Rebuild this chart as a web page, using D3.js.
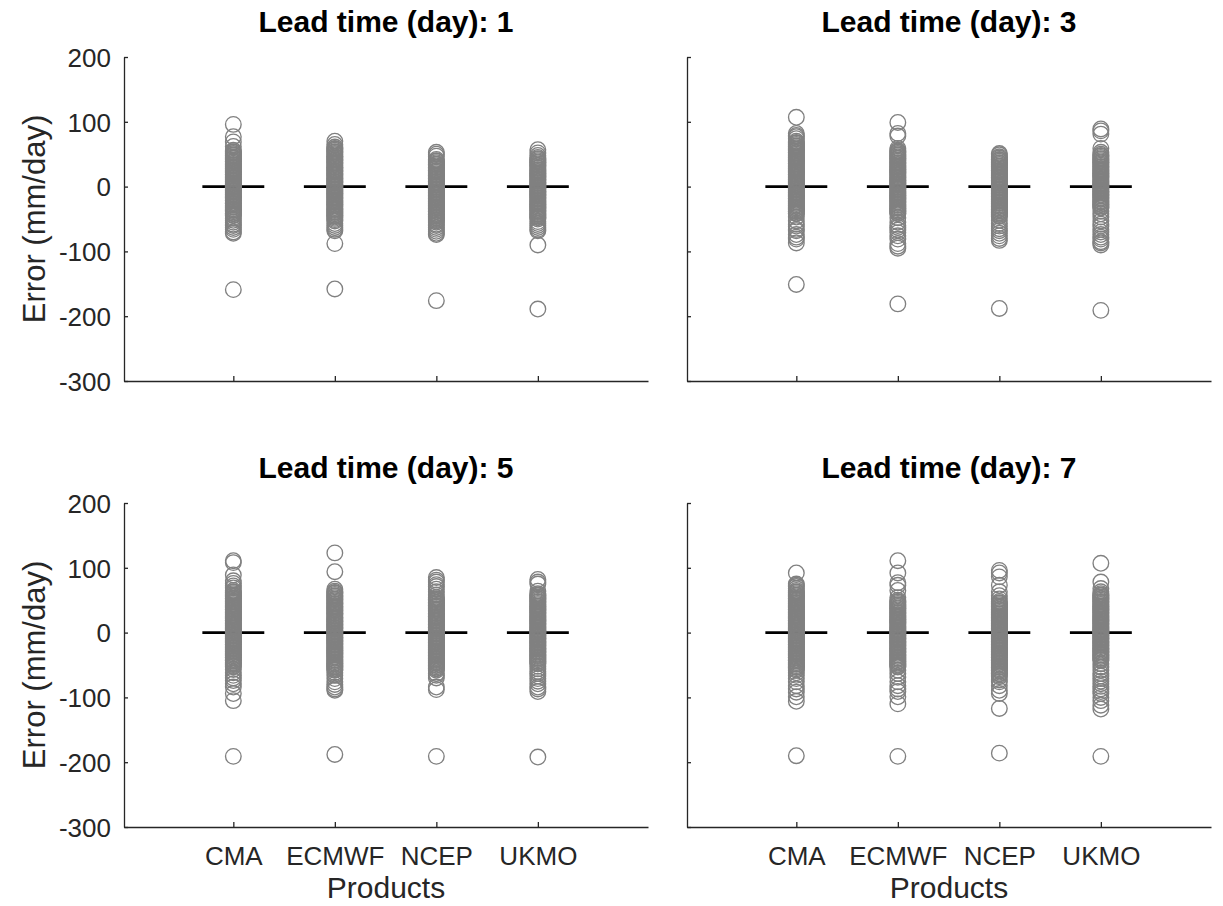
<!DOCTYPE html>
<html>
<head>
<meta charset="utf-8">
<script src="https://cdn.jsdelivr.net/npm/d3@7/dist/d3.min.js"></script>
<style>
body{margin:0;background:#fff;}
svg text{font-family:"Liberation Sans", Arial, Helvetica, sans-serif;fill:#262626;}
</style>
</head>
<body>
<script>
//wrap in a self-executing function to keep things local
(function(){

//categories and ticks
var products = ["CMA", "ECMWF", "NCEP", "UKMO"];
var leadTimes = [1, 3, 5, 7];
var yTicks = [-300, -200, -100, 0, 100, 200];

//error values (mm/day), lead time 1
var cma1 = [96,77,69,62,56,54,53,51,49,48,46,44,43,41,39,38,36,34,33,31,29,28,26,24,23,21,19,18,16,14,13,11,9,8,6,4,3,1,0,-1,-2,-4,-6,-7,-9,-11,-12,-14,-16,-17,-19,-21,-22,-24,-26,-27,-29,-31,-32,-34,-36,-37,-39,-41,-42,-44,-45,-49,-52,-55,-58,-60,-63,-66,-70,-72,-159];
var ecmwf1 = [70,65,61,59,58,56,54,53,51,49,47,46,44,42,41,39,37,36,34,32,30,29,27,25,24,22,20,19,17,15,13,12,10,8,7,5,3,2,0,-1,-3,-5,-6,-8,-10,-11,-13,-15,-17,-18,-20,-22,-23,-25,-27,-28,-30,-32,-34,-35,-37,-39,-40,-42,-44,-45,-47,-49,-51,-53,-57,-60,-63,-66,-68,-88,-158];
var ncep1 = [53,50,47,42,40,39,37,35,34,32,30,29,27,25,24,22,20,18,17,15,13,12,10,8,7,5,3,2,0,-1,-3,-4,-6,-8,-9,-11,-13,-14,-16,-18,-19,-21,-23,-24,-26,-28,-29,-31,-33,-34,-36,-38,-39,-41,-43,-44,-46,-48,-49,-51,-53,-55,-58,-60,-63,-66,-69,-72,-74,-176];
var ukmo1 = [57,52,48,45,43,42,40,38,37,35,33,32,30,28,26,25,23,21,20,18,16,15,13,11,10,8,6,5,3,1,0,-2,-3,-5,-7,-8,-10,-12,-13,-15,-17,-18,-20,-22,-23,-25,-27,-28,-30,-32,-33,-35,-37,-38,-40,-42,-43,-45,-47,-48,-50,-54,-57,-60,-63,-66,-68,-90,-189];

//lead time 3
var cma3 = [107,82,79,77,74,70,68,67,65,63,62,60,58,57,55,53,52,50,48,46,45,43,41,40,38,36,35,33,31,29,28,26,24,23,21,19,18,16,14,12,11,9,7,6,4,2,1,-1,-3,-4,-6,-8,-9,-11,-13,-14,-16,-18,-19,-21,-23,-24,-26,-28,-29,-31,-33,-34,-36,-38,-39,-41,-42,-47,-53,-58,-61,-66,-68,-74,-78,-81,-87,-151];
var ecmwf3 = [99,82,78,59,56,54,53,51,49,48,46,44,43,41,39,37,36,34,32,31,29,27,26,24,22,21,19,17,15,14,12,10,9,7,5,4,2,0,-1,-3,-4,-6,-8,-9,-11,-13,-14,-16,-18,-19,-21,-23,-24,-26,-28,-29,-31,-33,-34,-36,-38,-39,-41,-42,-48,-55,-60,-63,-67,-71,-76,-81,-88,-92,-95,-181];
var ncep3 = [51,49,46,44,42,41,39,37,36,34,32,31,29,27,25,24,22,20,19,17,15,14,12,10,9,7,5,3,2,0,-1,-3,-5,-6,-8,-10,-11,-13,-15,-16,-18,-20,-21,-23,-25,-26,-28,-30,-31,-33,-35,-36,-38,-40,-41,-43,-45,-46,-52,-57,-61,-65,-68,-72,-76,-80,-83,-188];
var ukmo3 = [89,86,81,59,53,50,48,47,45,43,42,40,38,37,35,33,31,30,28,26,25,23,21,20,18,16,15,13,11,9,8,6,4,3,1,0,-2,-3,-5,-7,-8,-10,-12,-13,-15,-17,-18,-20,-22,-23,-25,-27,-28,-30,-32,-33,-38,-42,-47,-53,-58,-61,-66,-70,-74,-78,-81,-85,-87,-90,-191];

//lead time 5
var cma5 = [111,108,89,80,76,72,69,65,63,62,60,58,57,55,53,52,50,48,47,45,43,41,40,38,36,35,33,31,30,28,26,24,23,21,19,18,16,14,13,11,9,7,6,4,2,1,-1,-3,-4,-6,-8,-9,-11,-13,-14,-16,-18,-19,-21,-23,-24,-26,-28,-29,-31,-33,-34,-36,-38,-39,-41,-43,-44,-46,-48,-49,-51,-53,-57,-62,-66,-70,-74,-79,-84,-94,-105,-191];
var ecmwf5 = [123,94,67,64,62,61,59,57,56,54,52,51,49,47,45,44,42,40,39,37,35,34,32,30,29,27,25,23,22,20,18,17,15,13,12,10,8,7,5,3,2,0,-2,-3,-5,-7,-8,-10,-12,-13,-15,-17,-18,-20,-22,-23,-25,-27,-28,-30,-32,-33,-35,-37,-38,-40,-42,-43,-45,-47,-48,-50,-52,-53,-55,-57,-58,-62,-66,-71,-76,-80,-84,-87,-89,-188];
var ncep5 = [85,81,78,74,71,67,63,58,54,52,51,49,47,46,44,42,41,39,37,36,34,32,30,29,27,25,24,22,20,19,17,15,13,12,10,8,7,5,3,2,0,-1,-3,-5,-6,-8,-10,-11,-13,-15,-16,-18,-20,-21,-23,-25,-26,-28,-30,-31,-33,-35,-36,-38,-40,-41,-43,-45,-46,-48,-50,-51,-53,-55,-56,-58,-63,-66,-70,-84,-88,-191];
var ukmo5 = [82,78,75,64,60,58,57,55,53,52,50,48,47,45,43,41,40,38,36,35,33,31,30,28,26,25,23,21,19,18,16,14,13,11,9,8,6,4,3,1,0,-2,-4,-5,-7,-9,-10,-12,-14,-15,-17,-19,-20,-22,-24,-25,-27,-29,-30,-32,-34,-35,-37,-39,-40,-42,-44,-45,-47,-48,-52,-56,-60,-63,-67,-71,-75,-79,-84,-87,-91,-192];

//lead time 7
var cma7 = [92,75,73,71,68,65,63,62,60,58,57,55,53,52,50,48,46,45,43,41,40,38,36,35,33,31,30,28,26,24,23,21,19,18,16,14,13,11,9,7,6,4,2,1,-1,-3,-4,-6,-8,-9,-11,-13,-14,-16,-18,-19,-21,-23,-24,-26,-28,-29,-31,-33,-34,-36,-38,-39,-41,-43,-44,-46,-48,-49,-51,-53,-54,-56,-58,-62,-66,-71,-76,-82,-87,-92,-99,-106,-190];
var ecmwf7 = [111,92,77,73,65,54,50,48,47,45,43,42,40,38,37,35,33,31,30,28,26,25,23,21,20,18,16,15,13,11,9,8,6,4,3,1,0,-2,-4,-5,-7,-9,-10,-12,-14,-15,-17,-19,-20,-22,-24,-25,-27,-29,-30,-32,-34,-35,-37,-39,-40,-42,-44,-45,-47,-49,-50,-52,-53,-58,-63,-69,-76,-82,-87,-91,-99,-110,-191];
var ncep7 = [96,92,86,73,63,57,52,48,46,45,43,41,40,38,36,35,33,31,29,28,26,24,23,21,19,18,16,14,13,11,9,7,6,4,2,1,-1,-3,-4,-6,-8,-9,-11,-13,-14,-16,-18,-19,-21,-23,-24,-26,-28,-29,-31,-33,-34,-36,-38,-39,-41,-43,-44,-46,-48,-49,-51,-53,-54,-56,-58,-59,-61,-63,-64,-66,-68,-73,-76,-82,-89,-94,-117,-186];
var ukmo7 = [107,78,68,63,60,58,57,55,53,52,50,48,47,45,43,41,40,38,36,35,33,31,30,28,26,25,23,21,19,18,16,14,13,11,9,8,6,4,3,1,0,-2,-4,-5,-7,-9,-10,-12,-14,-15,-17,-19,-20,-22,-24,-25,-27,-29,-30,-32,-34,-35,-37,-39,-40,-42,-43,-48,-53,-58,-63,-67,-71,-75,-79,-83,-87,-91,-94,-100,-105,-112,-118,-191];

//median error per product
var median1 = [0, 0, 0, 0];
var median3 = [0, 0, 0, 0];
var median5 = [0, 0, 0, 0];
var median7 = [0, 0, 0, 0];

var errors = [[cma1, ecmwf1, ncep1, ukmo1], [cma3, ecmwf3, ncep3, ukmo3],
              [cma5, ecmwf5, ncep5, ukmo5], [cma7, ecmwf7, ncep7, ukmo7]];
var medians = [median1, median3, median5, median7];

//figure frame
var width = 1223, height = 906;
var pw = 524, ph = 324;
var origins = [[124, 57], [687, 57], [124, 503], [687, 503]];

var svg = d3.select("body")
    .append("svg")
    .attr("width", width)
    .attr("height", height);

var x = d3.scaleLinear()
    .domain([-0.077, 5.085])
    .range([0, pw]);

var y = d3.scaleLinear()
    .domain([-300, 200])
    .range([ph, 0]);

leadTimes.forEach(function(lead, i){
    var col = i % 2, row = Math.floor(i / 2);
    var g = svg.append("g")
        .attr("transform", "translate(" + origins[i][0] + "," + origins[i][1] + ")");

    //y axis, ticks pointing inward, plain hyphen for negatives
    var yAxis = d3.axisLeft(y)
        .tickValues(yTicks)
        .tickSizeInner(-4)
        .tickSizeOuter(0)
        .tickPadding(13)
        .tickFormat(function(d){ return col == 1 ? "" : String(d); });
    var ya = g.append("g").call(yAxis);

    //x axis
    var xAxis = d3.axisBottom(x)
        .tickValues([1, 2, 3, 4])
        .tickSizeInner(-5)
        .tickSizeOuter(0)
        .tickPadding(20)
        .tickFormat(function(d){ return row == 1 ? products[d - 1] : ""; });
    var xa = g.append("g")
        .attr("transform", "translate(0," + ph + ")")
        .call(xAxis);

    [ya, xa].forEach(function(a){
        a.select(".domain").attr("stroke", "#262626").attr("stroke-width", 1.3);
        a.selectAll(".tick line").attr("stroke", "#262626").attr("stroke-width", 1.3);
        a.selectAll(".tick text")
            .attr("fill", "#262626")
            .style("font-size", "26px")
            .style("font-family", '"Liberation Sans", Arial, sans-serif');
    });
    ya.selectAll(".tick text").attr("dy", "0.36em");

    //median bars
    g.selectAll(".median")
        .data(medians[i])
        .enter()
        .append("line")
        .attr("class", "median")
        .attr("x1", function(d, j){ return x(j + 1 - 0.305); })
        .attr("x2", function(d, j){ return x(j + 1 + 0.305); })
        .attr("y1", function(d){ return y(d); })
        .attr("y2", function(d){ return y(d); })
        .attr("stroke", "#000")
        .attr("stroke-width", 2.6);

    //error circles
    errors[i].forEach(function(vals, j){
        g.selectAll(".pt" + j)
            .data(vals)
            .enter()
            .append("circle")
            .attr("class", "pt" + j)
            .attr("cx", x(j + 1))
            .attr("cy", function(d){ return y(d); })
            .attr("r", 7.8)
            .attr("fill", "none")
            .attr("stroke", "#808080")
            .attr("stroke-width", 1.35);
    });

    //panel title
    g.append("text")
        .attr("x", pw / 2)
        .attr("y", -25)
        .attr("text-anchor", "middle")
        .style("font-size", "30px")
        .style("font-weight", "bold")
        .style("fill", "#000")
        .text("Lead time (day): " + lead);

    //axis labels
    if (col == 0){
        g.append("text")
            .attr("transform", "translate(-79," + (ph / 2) + ") rotate(-90)")
            .attr("text-anchor", "middle")
            .style("font-size", "31px")
            .text("Error (mm/day)");
    }
    if (row == 1){
        g.append("text")
            .attr("x", pw / 2)
            .attr("y", ph + 71)
            .attr("text-anchor", "middle")
            .style("font-size", "30px")
            .text("Products");
    }
});

})();
</script>
</body>
</html>
